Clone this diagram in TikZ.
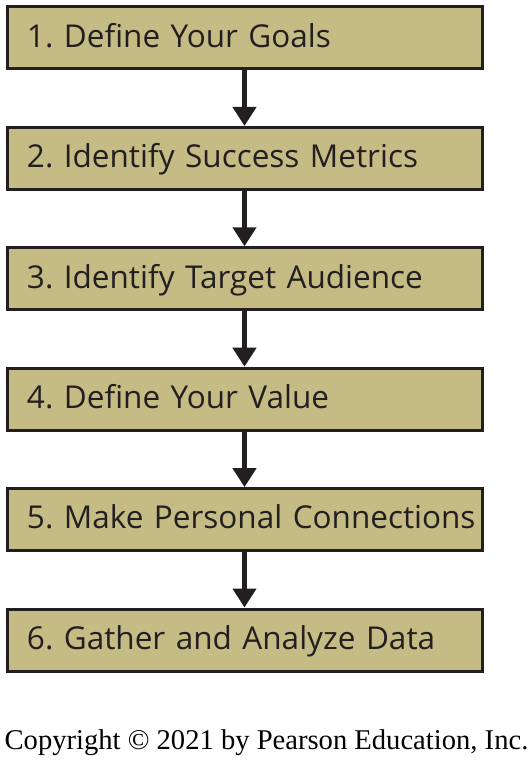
\documentclass[tikz,border=0pt]{standalone}
\usepackage{fontspec}
\setmainfont{Liberation Serif}
\newfontfamily\boxfont{Open Sans}
\usetikzlibrary{arrows.meta}
\definecolor{boxfill}{HTML}{C4BC84}
\definecolor{inkdark}{HTML}{231F20}
\frenchspacing
\tikzset{
  stepbox/.style={draw=inkdark, line width=3pt, fill=boxfill, anchor=north west,
    minimum width=475pt, minimum height=62pt, inner xsep=5pt, text width=465pt,
    text height=22.5pt, text depth=4pt, execute at begin node={\hspace*{15pt}},
    align=left, text=inkdark, font=\boxfont\fontsize{31.5}{35}\selectfont},
  flowarrow/.style={draw=inkdark, line width=4.5pt,
    -{Triangle[width=23pt,length=19pt]}}
}
\begin{document}
\begin{tikzpicture}[x=1pt,y=-1pt]
    \useasboundingbox (0,0) rectangle (531,765);
    \node[stepbox] (s1) at (5.5,5.5) {1. Define Your Goals};
    \node[stepbox] (s2) at (5.5,125.9) {2. Identify Success Metrics};
    \node[stepbox] (s3) at (5.5,246.3) {3. Identify Target Audience};
    \node[stepbox] (s4) at (5.5,366.7) {4. Define Your Value};
    \node[stepbox] (s5) at (5.5,487.1) {5. Make Personal Connections};
    \node[stepbox] (s6) at (5.5,607.5) {6. Gather and Analyze Data};
    \draw[flowarrow] (s1.south) -- (s2.north);
    \draw[flowarrow] (s2.south) -- (s3.north);
    \draw[flowarrow] (s3.south) -- (s4.north);
    \draw[flowarrow] (s4.south) -- (s5.north);
    \draw[flowarrow] (s5.south) -- (s6.north);
    \node[font=\fontsize{28.6}{32}\selectfont] (copy) at (266.5,743)
    {Copyright \textcopyright{} 2021 by Pearson Education, Inc.};
\end{tikzpicture}
\end{document}
